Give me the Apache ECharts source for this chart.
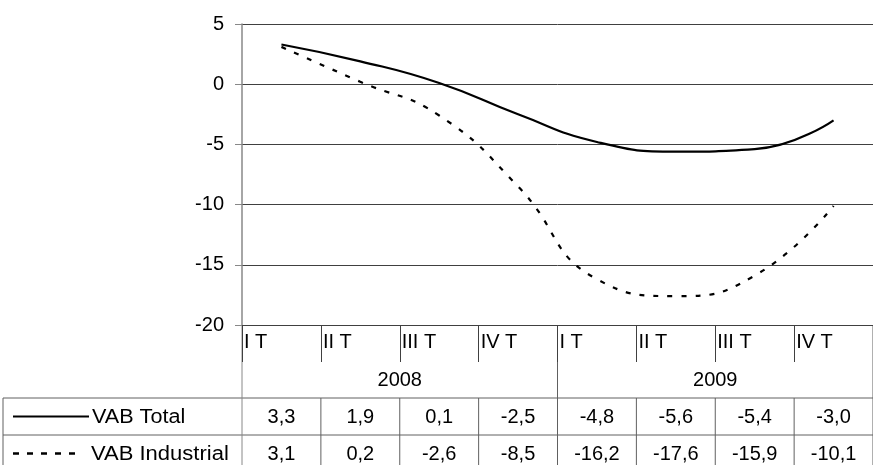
<!DOCTYPE html>
<html>
<head>
<meta charset="utf-8">
<script src="https://cdn.jsdelivr.net/npm/echarts@6/dist/echarts.min.js"></script>
<style>
html,body{margin:0;padding:0;background:#fff;}
#chart{width:873px;height:465px;}
</style>
</head>
<body>
<div id="chart"></div>
<script>
const quarters = ['I T','II T','III T','IV T','I T','II T','III T','IV T'];
const years = ['2008','2009'];
const seriesNames = ['VAB Total','VAB Industrial'];
const vabTotal = [3.3, 1.9, 0.1, -2.5, -4.8, -5.6, -5.4, -3.0];
const vabIndustrial = [3.1, 0.2, -2.6, -8.5, -16.2, -17.6, -15.9, -10.1];
const yMin = -20, yMax = 5, yStep = 5;

const FONT = '"Liberation Sans", Arial, sans-serif';
const FS = 20;
const categories = quarters.map((q, i) => years[Math.floor(i / 4)] + ' ' + q);
const allSeries = [vabTotal, vabIndustrial];
const dashes = [null, [5, 9]];

const chart = echarts.init(document.getElementById('chart'));
chart.setOption({
  animation: false,
  backgroundColor: '#fff',
  grid: { left: 242, top: 24, width: 638, height: 301, containLabel: false },
  xAxis: {
    type: 'category',
    data: categories,
    boundaryGap: true,
    axisLine: { show: true, onZero: false, lineStyle: { color: '#404040', width: 1 } },
    axisTick: { show: true, interval: 0, length: 37, lineStyle: { color: '#404040', width: 1 } },
    axisLabel: { show: false },
    splitLine: { show: false }
  },
  yAxis: {
    type: 'value',
    min: yMin, max: yMax, interval: yStep,
    axisLine: { show: true, lineStyle: { color: '#888', width: 1.5 } },
    axisTick: { show: true, length: 7, lineStyle: { color: '#888', width: 1 } },
    axisLabel: { color: '#000', fontSize: FS, fontFamily: FONT, margin: 18 },
    splitLine: { show: true, lineStyle: { color: '#404040', width: 1 } }
  },
  series: allSeries.map((d, i) => ({
    name: seriesNames[i],
    type: 'line',
    data: d,
    smooth: 0.5,
    symbol: 'none',
    lineStyle: { color: '#000', width: 2.2, type: dashes[i] || 'solid' },
    z: 5
  }))
});

// Build the data table under the chart from the arrays
const fmt = v => v.toFixed(1).replace('.', ',');
const c0 = chart.convertToPixel({ xAxisIndex: 0 }, 0);
const c1 = chart.convertToPixel({ xAxisIndex: 0 }, 1);
const cw = c1 - c0;
const left0 = c0 - cw / 2;
const yb = chart.convertToPixel({ yAxisIndex: 0 }, yMin);
const rowYear = yb + 73;
const row1 = rowYear + 37;
const row2 = row1 + 37;
const tableLeft = 3;
const rightEdge = left0 + cw * categories.length;
const lineColor = '#606060';
const g = [];
function hline(x1, x2, y) { g.push({ type: 'line', shape: { x1, y1: y, x2, y2: y }, style: { stroke: lineColor, lineWidth: 1 }, silent: true }); }
function vline(x, y1, y2, c) { g.push({ type: 'line', shape: { x1: x, y1, x2: x, y2 }, style: { stroke: c || lineColor, lineWidth: 1 }, silent: true }); }
function text(t, x, y, align, sx) { g.push({ type: 'text', x, y, scaleX: sx || 1, style: { text: t, font: FS + 'px ' + FONT, fill: '#000', align: align || 'center', verticalAlign: 'middle' }, silent: true }); }

hline(tableLeft, rightEdge, rowYear);
hline(tableLeft, rightEdge, row1);
hline(tableLeft, rightEdge, row2);
vline(tableLeft, rowYear, row2 + 2);
vline(left0, yb, row2 + 2, '#888');
for (let i = 1; i <= categories.length; i++) {
  const x = left0 + cw * i;
  if (i % 4 === 0) vline(x, yb, row2 + 2);
  else vline(x, rowYear, row2 + 2);
}
quarters.forEach((q, i) => text(q, left0 + cw * i + 2, yb + 17, 'left'));
years.forEach((y, k) => text(y, left0 + cw * (4 * k + 2), yb + 55, 'center'));
allSeries.forEach((d, r) => {
  const yy = r === 0 ? (rowYear + row1) / 2 : (row1 + row2) / 2;
  d.forEach((v, i) => text(fmt(v), left0 + cw * (i + 0.5), yy + 1, 'center'));
});
// legend keys in the table
const r1y = (rowYear + row1) / 2, r2y = (row1 + row2) / 2;
g.push({ type: 'line', shape: { x1: 13, y1: r1y, x2: 89, y2: r1y }, style: { stroke: '#000', lineWidth: 2.2 }, silent: true });
g.push({ type: 'line', shape: { x1: 13, y1: r2y, x2: 81, y2: r2y }, style: { stroke: '#000', lineWidth: 2.5, lineDash: [6, 8] }, silent: true });
text(seriesNames[0], 92, r1y + 1, 'left', 1.08);
text(seriesNames[1], 91, r2y + 1, 'left', 1.1);

chart.setOption({ graphic: { elements: g } });
</script>
</body>
</html>
